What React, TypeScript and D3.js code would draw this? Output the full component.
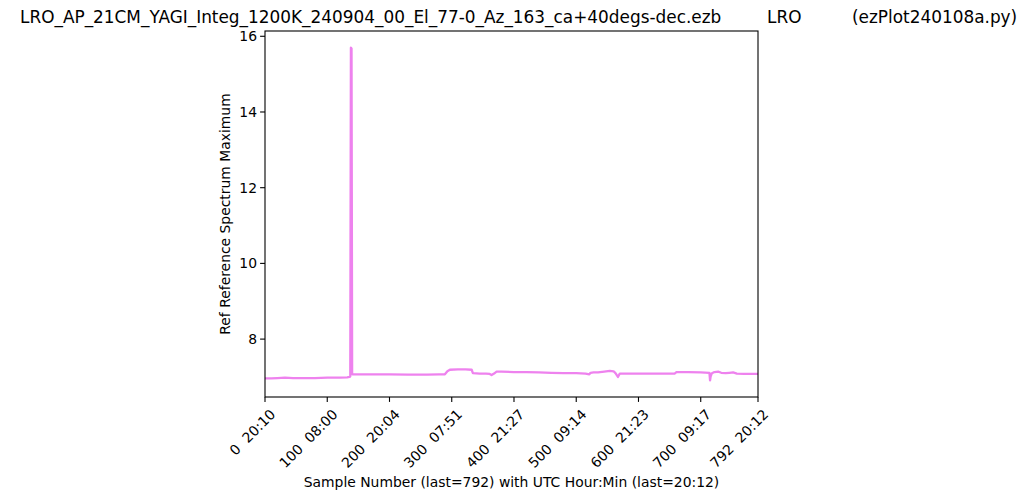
import React, { useEffect, useRef } from "react";
import * as d3 from "d3";

const sampleIdx: number[] = [
  0, 10, 20, 32, 45, 60, 80, 100, 120, 132, 136, 137, 138, 139, 140, 150, 170, 200, 230, 260, 280, 289,
  293, 297, 310, 322, 332, 334, 345, 355, 361, 364, 368, 372, 380, 400, 420, 440, 460, 480, 500, 515,
  521, 523, 528, 535, 545, 554, 560, 563, 567, 570, 580, 600, 620, 640, 658, 661, 680, 700, 714, 715,
  716, 718, 722, 728, 733, 740, 746, 752, 758, 770, 780, 792,
];
const refMax: number[] = [
  6.96, 6.96, 6.97, 6.98, 6.97, 6.97, 6.97, 6.98, 6.98, 6.99, 7.0, 7.02, 15.7, 15.68, 7.07, 7.07, 7.07, 7.07, 7.06, 7.06, 7.07, 7.07,
  7.15, 7.19, 7.2, 7.2, 7.19, 7.1, 7.09, 7.09, 7.08, 7.05, 7.09, 7.14, 7.14, 7.13, 7.13, 7.12, 7.11, 7.1, 7.1, 7.09,
  7.07, 7.11, 7.12, 7.12, 7.14, 7.16, 7.15, 7.1, 7.0, 7.09, 7.09, 7.09, 7.09, 7.09, 7.09, 7.13, 7.13, 7.12, 7.11, 6.91,
  7.02, 7.1, 7.13, 7.14, 7.11, 7.1, 7.11, 7.12, 7.09, 7.08, 7.08, 7.08,
];
const xTickValues: number[] = [0, 100, 200, 300, 400, 500, 600, 700, 792];
const xTickLabels: string[] = [
  "0  20:10", "100  08:00", "200  20:04", "300  07:51", "400  21:27",
  "500  09:14", "600  21:23", "700  09:17", "792  20:12",
];
const yTickValues: number[] = [8, 10, 12, 14, 16];
const titleMain = "LRO_AP_21CM_YAGI_Integ_1200K_240904_00_El_77-0_Az_163_ca+40degs-dec.ezb";
const titleMid = "LRO";
const titleRight = "(ezPlot240108a.py)";
const xLabel = "Sample Number (last=792) with UTC Hour:Min (last=20:12)";
const yLabel = "Ref Reference Spectrum Maximum";

const W = 1024, H = 500;
const L = 265, R = 758, T = 31, B = 397;
const FONT = "'DejaVu Sans', sans-serif";

export default function App() {
  const ref = useRef<SVGSVGElement>(null);
  useEffect(() => {
    const svg = d3.select(ref.current!);
    svg.selectAll("*").remove();
    const x = d3.scaleLinear().domain([0, 792]).range([L, R]);
    const yMin = 6.91, yMax = 15.7, m = (yMax - yMin) * 0.05;
    const y = d3.scaleLinear().domain([yMin - m, yMax + m]).range([B, T]);

    svg.append("rect").attr("width", W).attr("height", H).attr("fill", "white");

    const pts = sampleIdx.map((s, i) => [s, refMax[i]] as [number, number]);
    const line = d3.line<[number, number]>().x(d => x(d[0])).y(d => y(d[1]));
    svg.append("path").attr("d", line(pts)!).attr("fill", "none")
      .attr("stroke", "#EE82EE").attr("stroke-width", 2.3).attr("stroke-linejoin", "round");

    svg.append("rect").attr("x", L).attr("y", T).attr("width", R - L).attr("height", B - T)
      .attr("fill", "none").attr("stroke", "black").attr("stroke-width", 1.1);

    const fs = 13.9;
    xTickValues.forEach((v, i) => {
      const px = x(v);
      svg.append("line").attr("x1", px).attr("x2", px).attr("y1", B).attr("y2", B + 4.9)
        .attr("stroke", "black").attr("stroke-width", 1.1);
      svg.append("text").attr("transform", `translate(${px + 4},${B + 11}) rotate(-45)`)
        .attr("text-anchor", "end").attr("dominant-baseline", "hanging")
        .attr("font-family", FONT).attr("font-size", fs).attr("xml:space", "preserve")
        .style("white-space", "pre")
        .text(xTickLabels[i]);
    });
    yTickValues.forEach(v => {
      const py = y(v);
      svg.append("line").attr("x1", L - 4.9).attr("x2", L).attr("y1", py).attr("y2", py)
        .attr("stroke", "black").attr("stroke-width", 1.1);
      svg.append("text").attr("x", L - 8).attr("y", py + 5).attr("text-anchor", "end")
        .attr("font-family", FONT).attr("font-size", fs).text(String(v));
    });

    svg.append("text").attr("x", (L + R) / 2).attr("y", 487).attr("text-anchor", "middle")
      .attr("font-family", FONT).attr("font-size", fs).text(xLabel);
    svg.append("text").attr("transform", `translate(230,${(T + B) / 2}) rotate(-90)`)
      .attr("text-anchor", "middle").attr("font-family", FONT).attr("font-size", fs).text(yLabel);

    const tfs = 16.9;
    svg.append("text").attr("x", 20).attr("y", 23).attr("font-family", FONT).attr("font-size", tfs).text(titleMain);
    svg.append("text").attr("x", 767).attr("y", 23).attr("font-family", FONT).attr("font-size", tfs).text(titleMid);
    svg.append("text").attr("x", 852).attr("y", 23).attr("font-family", FONT).attr("font-size", tfs).text(titleRight);
  }, []);
  return (
    <svg ref={ref} width={W} height={H} style={{ position: "absolute", left: 0, top: 0, display: "block" }} />
  );
}
